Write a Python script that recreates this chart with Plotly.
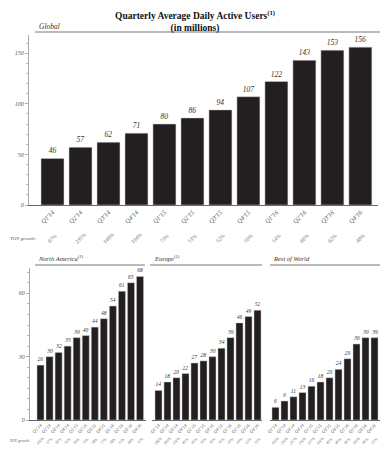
import plotly.graph_objects as go

quarters = ["Q1'14", "Q2'14", "Q3'14", "Q4'14", "Q1'15", "Q2'15", "Q3'15", "Q4'15",
            "Q1'16", "Q2'16", "Q3'16", "Q4'16"]
global_dau = [46, 57, 62, 71, 80, 86, 94, 107, 122, 143, 153, 156]
global_yoy = ["67%", "235%", "140%", "104%", "73%", "51%", "52%", "50%", "54%", "66%", "62%", "48%"]
na_dau = [26, 30, 32, 35, 39, 40, 44, 48, 54, 61, 65, 68]
na_yoy = ["100%", "67%", "60%", "52%", "50%", "33%", "38%", "37%", "38%", "53%", "48%", "42%"]
eu_dau = [14, 18, 20, 22, 27, 28, 30, 34, 39, 46, 49, 52]
eu_yoy = ["180%", "200%", "150%", "83%", "93%", "56%", "50%", "55%", "44%", "64%", "63%", "53%"]
row_dau = [6, 9, 11, 13, 16, 18, 20, 24, 29, 36, 39, 39]
row_yoy = ["500%", "350%", "267%", "160%", "167%", "100%", "82%", "85%", "81%", "100%", "95%", "63%"]

# the page body has an 8px margin, so the figure is drawn 8px in from the window edge
OFF = 8
W, H = 389 - OFF, 450 - OFF
FONT = "Liberation Serif"
BAR = "#231f20"

def px_x(p):
    return (p - OFF) / W

def px_y(p):
    return 1 - (p - OFF) / H

fig = go.Figure()

panels = [
    ("global", global_dau, global_yoy, "x", "y", 0.82, 7.5),
    ("na", na_dau, na_yoy, "x2", "y2", 0.78, 5.5),
    ("eu", eu_dau, eu_yoy, "x3", "y3", 0.78, 5.5),
    ("row", row_dau, row_yoy, "x4", "y4", 0.78, 5.5),
]

idx = list(range(len(quarters)))
for name, vals, yoy, xa, ya, w, fs in panels:
    fig.add_trace(go.Bar(
        x=idx, y=vals, xaxis=xa, yaxis=ya, width=w,
        marker=dict(color=BAR, line=dict(color="#cfcfcf", width=0.5)),
        text=[str(v) for v in vals], textposition="outside", cliponaxis=False,
        textfont=dict(family=FONT, size=fs, color="#333333", style="italic"),
        showlegend=False, hoverinfo="skip",
    ))

tickfont_big = dict(family=FONT, size=6.5, color="#555", style="italic")
tickfont_small = dict(family=FONT, size=4.5, color="#555", style="italic")

def xaxis_cfg(dom_px, rng, font, anchor):
    return dict(domain=[px_x(dom_px[0]), px_x(dom_px[1])], range=rng, anchor=anchor,
                automargin=False,
                tickmode="array", tickvals=idx, ticktext=quarters, tickangle=-45,
                tickfont=font, showgrid=False, zeroline=False,
                showline=True, linecolor="#666", linewidth=1, ticks="", ticklen=0)

def yaxis_cfg(dom_px, rng, tickvals, dminor, anchor, show=True):
    cfg = dict(domain=[px_y(dom_px[1]), px_y(dom_px[0])], range=rng, anchor=anchor,
               automargin=False, showgrid=False, zeroline=False)
    if show:
        cfg.update(tickmode="array", tickvals=tickvals, ticktext=[str(t) for t in tickvals],
                   tickfont=dict(family=FONT, size=6, color="#555", style="italic"),
                   showline=True, linecolor="#aaa", linewidth=1,
                   ticks="outside", ticklen=3, tickcolor="#aaa",
                   minor=dict(dtick=dminor, ticks="outside", ticklen=2, tickcolor="#bbb"))
    else:
        cfg.update(visible=False)
    return cfg

fig.update_layout(
    width=W, height=H, margin=dict(l=0, r=0, t=0, b=0, autoexpand=False),
    paper_bgcolor="white", plot_bgcolor="white",
    xaxis=xaxis_cfg((29, 378), [-0.84, 11.63], tickfont_big, "y"),
    yaxis=yaxis_cfg((35, 205), [0, 168], [0, 50, 100, 150], 10, "x"),
    xaxis2=xaxis_cfg((30, 146), [-1.16, 11.66], tickfont_small, "y2"),
    yaxis2=yaxis_cfg((268, 420), [0, 72], [0, 30, 60], 5, "x2"),
    xaxis3=xaxis_cfg((152, 262), [-0.72, 11.5], tickfont_small, "y3"),
    yaxis3=yaxis_cfg((268, 420), [0, 72], [], 5, "x3", show=False),
    xaxis4=xaxis_cfg((270, 380), [-0.61, 11.61], tickfont_small, "y4"),
    yaxis4=yaxis_cfg((268, 420), [0, 72], [], 5, "x4", show=False),
    showlegend=False,
)

ann = []
ann.append(dict(x=px_x(194.5), y=px_y(7), xref="paper", yref="paper", xanchor="center",
                yanchor="top",
                text="<b>Quarterly Average Daily Active Users<sup>(1)</sup></b><br><b>(in millions)</b>",
                showarrow=False, font=dict(family=FONT, size=9.5, color="#111")))
heads = [("Global", 37, 27, 7.5), ("North America<sup>(1)</sup>", 36, 258, 6.5),
         ("Europe<sup>(1)</sup>", 152, 258, 6.5), ("Rest of World", 271, 258, 6.5)]
for txt, xp, yp, fs in heads:
    ann.append(dict(x=px_x(xp), y=px_y(yp), xref="paper", yref="paper", xanchor="left",
                    yanchor="middle", text=txt, showarrow=False,
                    font=dict(family=FONT, size=fs, color="#333", style="italic")))
ann.append(dict(x=px_x(8), y=px_y(238), xref="paper", yref="paper", xanchor="left",
                yanchor="middle", text="YOY growth:", showarrow=False,
                font=dict(family=FONT, size=5, color="#555", style="italic")))
ann.append(dict(x=px_x(8), y=px_y(441), xref="paper", yref="paper", xanchor="left",
                yanchor="middle", text="YOY growth:", showarrow=False,
                font=dict(family=FONT, size=3.8, color="#555", style="italic")))
for name, vals, yoy, xa, ya, w, fs in panels:
    big = name == "global"
    for i, g in zip(idx, yoy):
        ann.append(dict(x=i, y=px_y(238 if big else 441), xref=xa, yref="paper",
                        xanchor="center", yanchor="middle", text=g, textangle=-45,
                        showarrow=False,
                        font=dict(family=FONT, size=5.5 if big else 3.8, color="#666",
                                  style="italic")))
fig.update_layout(annotations=ann)

shapes = []
for x0, x1, yp in [(35, 380, 32), (35, 145, 265), (150, 262, 265), (270, 380, 265)]:
    shapes.append(dict(type="line", xref="paper", yref="paper", x0=px_x(x0), x1=px_x(x1),
                       y0=px_y(yp), y1=px_y(yp), line=dict(color="#777", width=1)))
fig.update_layout(shapes=shapes)

fig.write_html("out.html")
